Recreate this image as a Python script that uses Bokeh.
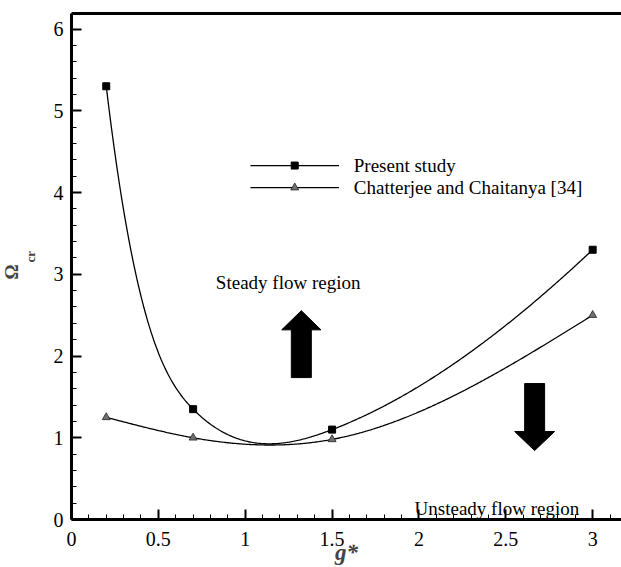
import numpy as np
from bokeh.plotting import figure
from bokeh.models import Range1d, SingleIntervalTicker, FixedTicker, Title, LinearAxis
from bokeh.core.properties import value
from bokeh.embed import file_html
from bokeh.resources import INLINE

# ---- data ----
g_star = [0.2, 0.7, 1.5, 3.0]
present_study = [5.3, 1.35, 1.1, 3.3]
chatterjee = [1.25, 1.0, 0.98, 2.5]
series_names = ["Present study", "Chatterjee and Chaitanya [34]"]


def cubic_spline(xs, ys, m_start=None, m_end=None, num=400):
    """C2 cubic spline y(x); ends natural unless an end slope is given."""
    x = np.array(xs, float)
    y = np.array(ys, float)
    n = len(x)
    h = np.diff(x)
    s = np.diff(y) / h
    A = np.zeros((n, n))
    b = np.zeros(n)
    if m_start is None:
        A[0, 0], A[0, 1], b[0] = 2, 1, 3 * s[0]
    else:
        A[0, 0], b[0] = 1, m_start
    if m_end is None:
        A[-1, -2], A[-1, -1], b[-1] = 1, 2, 3 * s[-1]
    else:
        A[-1, -1], b[-1] = 1, m_end
    for i in range(1, n - 1):
        A[i, i - 1] = h[i]
        A[i, i] = 2 * (h[i - 1] + h[i])
        A[i, i + 1] = h[i - 1]
        b[i] = 3 * (h[i] * s[i - 1] + h[i - 1] * s[i])
    m = np.linalg.solve(A, b)
    xx = np.linspace(x[0], x[-1], num)
    idx = np.clip(np.searchsorted(x, xx) - 1, 0, n - 2)
    hi = h[idx]
    t = (xx - x[idx]) / hi
    h00 = 2 * t ** 3 - 3 * t ** 2 + 1
    h10 = t ** 3 - 2 * t ** 2 + t
    h01 = -2 * t ** 3 + 3 * t ** 2
    h11 = t ** 3 - t ** 2
    yy = h00 * y[idx] + h10 * hi * m[idx] + h01 * y[idx + 1] + h11 * hi * m[idx + 1]
    return xx, yy


FONT = "Liberation Serif"

p = figure(width=621, height=567, output_backend="svg", toolbar_location=None,
           x_range=Range1d(0, 3.166), y_range=Range1d(0, 6.19),
           min_border_left=71, min_border_right=0, min_border_top=13,
           min_border_bottom=48)
p.outline_line_color = None
p.grid.visible = False

for ax in (p.xaxis[0], p.yaxis[0]):
    ax.axis_line_width = 3
    ax.major_tick_line_width = 2
    ax.minor_tick_line_width = 1
    ax.major_tick_in = 10
    ax.major_tick_out = 0
    ax.minor_tick_in = 5
    ax.minor_tick_out = 0
    ax.major_label_text_font = FONT
    ax.major_label_text_font_size = "20px"
    ax.major_label_text_color = "black"

p.xaxis[0].major_label_standoff = 12
p.yaxis[0].major_label_standoff = 8
p.xaxis[0].ticker = SingleIntervalTicker(interval=0.5, num_minor_ticks=5)
p.yaxis[0].ticker = SingleIntervalTicker(interval=1, num_minor_ticks=5)
p.xaxis[0].major_label_overrides = {0: "0", 1: "1", 2: "2", 3: "3"}
p.xaxis[0].axis_label = "g*"
p.xaxis[0].axis_label_text_font = FONT
p.xaxis[0].axis_label_text_font_style = "bold italic"
p.xaxis[0].axis_label_text_font_size = "23px"
p.xaxis[0].axis_label_standoff = -9

# top border: a bare axis line
top = LinearAxis(ticker=FixedTicker(ticks=[]), axis_line_width=3,
                 major_label_text_font_size="0px", major_tick_line_color=None,
                 minor_tick_line_color=None, major_label_standoff=0)
p.add_layout(top, "above")

# y axis label  Ω_cr  (two stacked titles in the left panel)
p.add_layout(Title(text="cr", align="left", offset=257, standoff=25, text_font=FONT,
                   text_font_style="bold", text_font_size="13px"), "left")
p.add_layout(Title(text="Ω", align="left", offset=240, standoff=-27, text_font=FONT,
                   text_font_style="bold", text_font_size="19px"), "left")

# curves
sx_, sy_ = cubic_spline(g_star, present_study, m_start=-17.8, m_end=2.0)
p.line(sx_, sy_, line_color="black", line_width=1.3)
cx_, cy_ = cubic_spline(g_star, chatterjee)
p.line(cx_, cy_, line_color="black", line_width=1.3)
p.scatter(g_star, present_study, marker="square", size=7, fill_color="black",
          line_color="black")
p.scatter(g_star, chatterjee, marker="triangle", size=8, fill_color="#707070",
          line_color="#222222", line_width=0.8)

# legend (manual)
leg_x0, leg_x1, leg_xm, leg_tx = 1.030, 1.540, 1.285, 1.625
leg_y = [4.33, 4.06]
p.line([leg_x0, leg_x1], [leg_y[0]] * 2, line_color="black", line_width=1.3)
p.line([leg_x0, leg_x1], [leg_y[1]] * 2, line_color="black", line_width=1.3)
p.scatter([leg_xm], [leg_y[0]], marker="square", size=7, fill_color="black", line_color="black")
p.scatter([leg_xm], [leg_y[1]], marker="triangle", size=8, fill_color="#707070",
          line_color="#222222", line_width=0.8)
p.text([leg_tx, leg_tx], leg_y, text=series_names, text_font=value(FONT),
       text_font_size="19px", text_baseline="middle", text_align="left",
       text_color="black")

# region annotations
p.text([0.831], [2.90], text=["Steady flow region"], text_font=value(FONT),
       text_font_size="19px", text_baseline="middle", text_color="black")
p.text([1.975], [0.134], text=["Unsteady flow region"], text_font=value(FONT),
       text_font_size="19px", text_baseline="middle", text_color="black")


def arrow(cx, base, head_base, tip, body_hw, head_hw):
    xs = [cx - body_hw, cx - body_hw, cx - head_hw, cx, cx + head_hw, cx + body_hw, cx + body_hw]
    ys = [base, head_base, head_base, tip, head_base, head_base, base]
    return xs, ys


ax_, ay_ = arrow(1.323, 1.736, 2.32, 2.555, 0.0575, 0.113)
p.patch(ax_, ay_, fill_color="black", line_color="black")
bx_, by_ = arrow(2.666, 1.663, 1.076, 0.843, 0.0575, 0.115)
p.patch(bx_, by_, fill_color="black", line_color="black")

open("out.html", "w").write(file_html(p, INLINE))
